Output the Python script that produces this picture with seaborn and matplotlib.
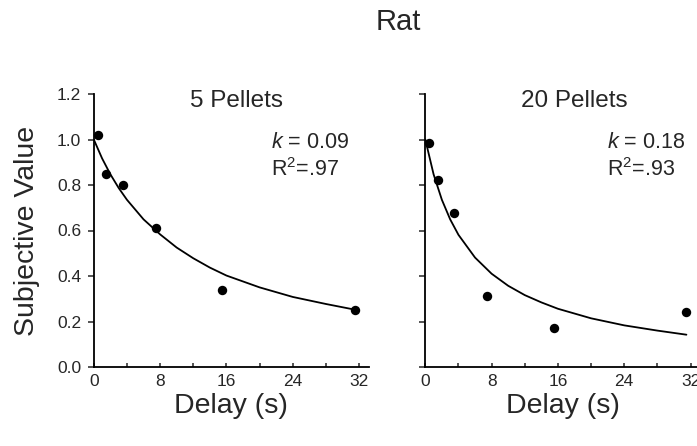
import numpy as np
import pandas as pd
import matplotlib
matplotlib.use("Agg")
import matplotlib.pyplot as plt
import seaborn as sns

# ------------------------------------------------------------------
# data
delay = [0.5, 1.5, 3.5, 7.5, 15.5, 31.5]
sv_5 = [1.02, 0.85, 0.80, 0.61, 0.34, 0.25]
sv_20 = [0.985, 0.82, 0.675, 0.31, 0.17, 0.24]

# fitted curves, read at these delays
curve_delay = [0, 1, 2, 3, 4, 6, 8, 10, 12, 14, 16, 20, 24, 28, 31.5]
curve_5 = [1.0, 0.917, 0.847, 0.787, 0.735, 0.649, 0.583, 0.525, 0.478,
           0.437, 0.402, 0.350, 0.308, 0.277, 0.252]
curve_20 = [1.0, 0.847, 0.735, 0.649, 0.581, 0.481, 0.410, 0.357, 0.316,
            0.284, 0.256, 0.214, 0.183, 0.160, 0.142]

panels = ["5 Pellets", "20 Pellets"]
k_labels = ["0.09", "0.18"]
r2_labels = [".97", ".93"]
x_ticks = [0, 8, 16, 24, 32]
y_ticks = [0.0, 0.2, 0.4, 0.6, 0.8, 1.0, 1.2]

# ------------------------------------------------------------------
sns.set_style("ticks")
plt.rcParams['font.family'] = ['Liberation Sans', 'DejaVu Sans']
plt.rcParams['mathtext.fontset'] = 'custom'
plt.rcParams['mathtext.rm'] = 'Liberation Sans'
plt.rcParams['mathtext.it'] = 'Liberation Sans:italic'

fig = plt.figure(figsize=(6.97, 4.46), dpi=100)
W, H = 697, 446
ax_w = 275.2 / W
ax_b = 1 - 367 / H
ax_h = 273 / H
lefts = [93.8 / W, 425.3 / W]
title_x = [0.517, 0.540]
text_x = [21.4, 21.9]

points = [sv_5, sv_20]
curves = [curve_5, curve_20]

for i in range(2):
    ax = fig.add_axes([lefts[i], ax_b, ax_w, ax_h])
    sns.lineplot(x=curve_delay, y=curves[i], ax=ax, color='black', lw=1.3)
    sns.scatterplot(x=delay, y=points[i], ax=ax, color='black', s=46,
                    edgecolor='black', linewidth=0, zorder=3, clip_on=False)

    ax.set_xlim(0, 33.2)
    ax.set_ylim(0, 1.2)
    ax.set_xticks(x_ticks)
    ax.set_xticks([4, 12, 20, 28], minor=True)
    ax.set_yticks(y_ticks)
    if i == 0:
        ax.set_yticklabels([f"{v:.1f}" for v in y_ticks])
    else:
        ax.set_yticklabels([])
    ax.tick_params(axis='x', which='both', direction='in', length=3,
                   width=1.1, pad=5, labelsize=12.5)
    ax.tick_params(axis='y', direction='out', length=4, width=1.1,
                   pad=5, labelsize=12.5)
    for side in ['top', 'right']:
        ax.spines[side].set_visible(False)
    for side in ['left', 'bottom']:
        ax.spines[side].set_linewidth(1.3)
        ax.spines[side].set_color('black')

    ax.set_xlabel("Delay (s)", fontsize=20.5, va='center')
    ax.xaxis.set_label_coords(0.5, -0.143)
    ax.set_ylabel("")

    ax.text(title_x[i], 0.952, panels[i], transform=ax.transAxes,
            ha='center', va='baseline', fontsize=17.5)
    ax.text(text_x[i], 0.963, f"$k$ = {k_labels[i]}", ha='left',
            va='baseline', fontsize=15.5)
    ax.text(text_x[i], 0.84, f"R$^2$=" + r2_labels[i], ha='left',
            va='baseline', fontsize=15.5)

fig.text(27 / W, 1 - 231 / H, "Subjective Value", rotation=90,
         ha='center', va='center', fontsize=20.5)
fig.text(398 / W, 1 - 22 / H, "Rat", ha='center', va='center', fontsize=21)

fig.savefig("out.png", dpi=100, facecolor='white')
